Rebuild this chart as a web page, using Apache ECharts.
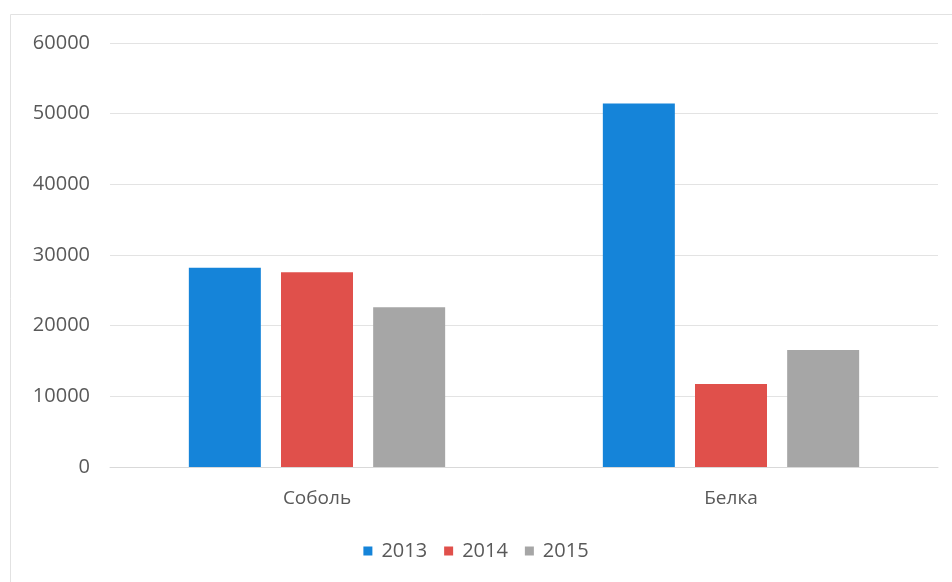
<!DOCTYPE html>
<html>
<head>
<meta charset="utf-8">
<script src="https://cdn.jsdelivr.net/npm/echarts@6/dist/echarts.min.js"></script>
<style>
html,body{margin:0;padding:0;background:#fff;}
#chart{width:952px;height:582px;}
</style>
</head>
<body>
<div id="chart"></div>
<script>
const categories = ['Соболь', 'Белка'];
const seriesNames = ['2013', '2014', '2015'];
const values2013 = [28200, 51450];
const values2014 = [27550, 11750];
const values2015 = [22600, 16550];
const yTicks = [0, 10000, 20000, 30000, 40000, 50000, 60000];

const colors = ['#1584d9', '#e0504b', '#a6a6a6'];
const seriesValues = [values2013, values2014, values2015];
const font = 'Open Sans, Noto Sans, sans-serif';

const chart = echarts.init(document.getElementById('chart'), null, {renderer: 'canvas'});
chart.setOption({
  animation: false,
  backgroundColor: '#ffffff',
  graphic: [{
    type: 'rect',
    shape: {x: 10.5, y: 14.5, width: 960, height: 600},
    style: {fill: 'none', stroke: '#e2e2e2', lineWidth: 1},
    silent: true
  }],
  grid: {left: 110, right: 14, top: 43, bottom: 115, containLabel: false},
  legend: {
    data: seriesNames,
    bottom: 16,
    left: 'center',
    icon: 'rect',
    itemWidth: 9,
    itemHeight: 9,
    itemGap: 17,
    textStyle: {color: '#595959', fontSize: 20, fontFamily: font, padding: [0, 0, 0, 4]}
  },
  xAxis: {
    type: 'category',
    data: categories,
    axisLine: {show: true, lineStyle: {color: '#d9d9d9', width: 1}},
    axisTick: {show: false},
    axisLabel: {color: '#595959', fontSize: 19, fontFamily: font, margin: 22}
  },
  yAxis: {
    type: 'value',
    min: yTicks[0],
    max: yTicks[yTicks.length - 1],
    interval: yTicks[1] - yTicks[0],
    axisLine: {show: false},
    axisTick: {show: false},
    splitLine: {lineStyle: {color: '#e3e3e3', width: 1}},
    axisLabel: {color: '#595959', fontSize: 20, fontFamily: font, margin: 20, formatter: v => String(v)}
  },
  series: seriesNames.map((name, i) => ({
    name: name,
    type: 'bar',
    data: seriesValues[i],
    barWidth: 72,
    barGap: '28%',
    itemStyle: {color: colors[i]}
  }))
});
</script>
</body>
</html>
